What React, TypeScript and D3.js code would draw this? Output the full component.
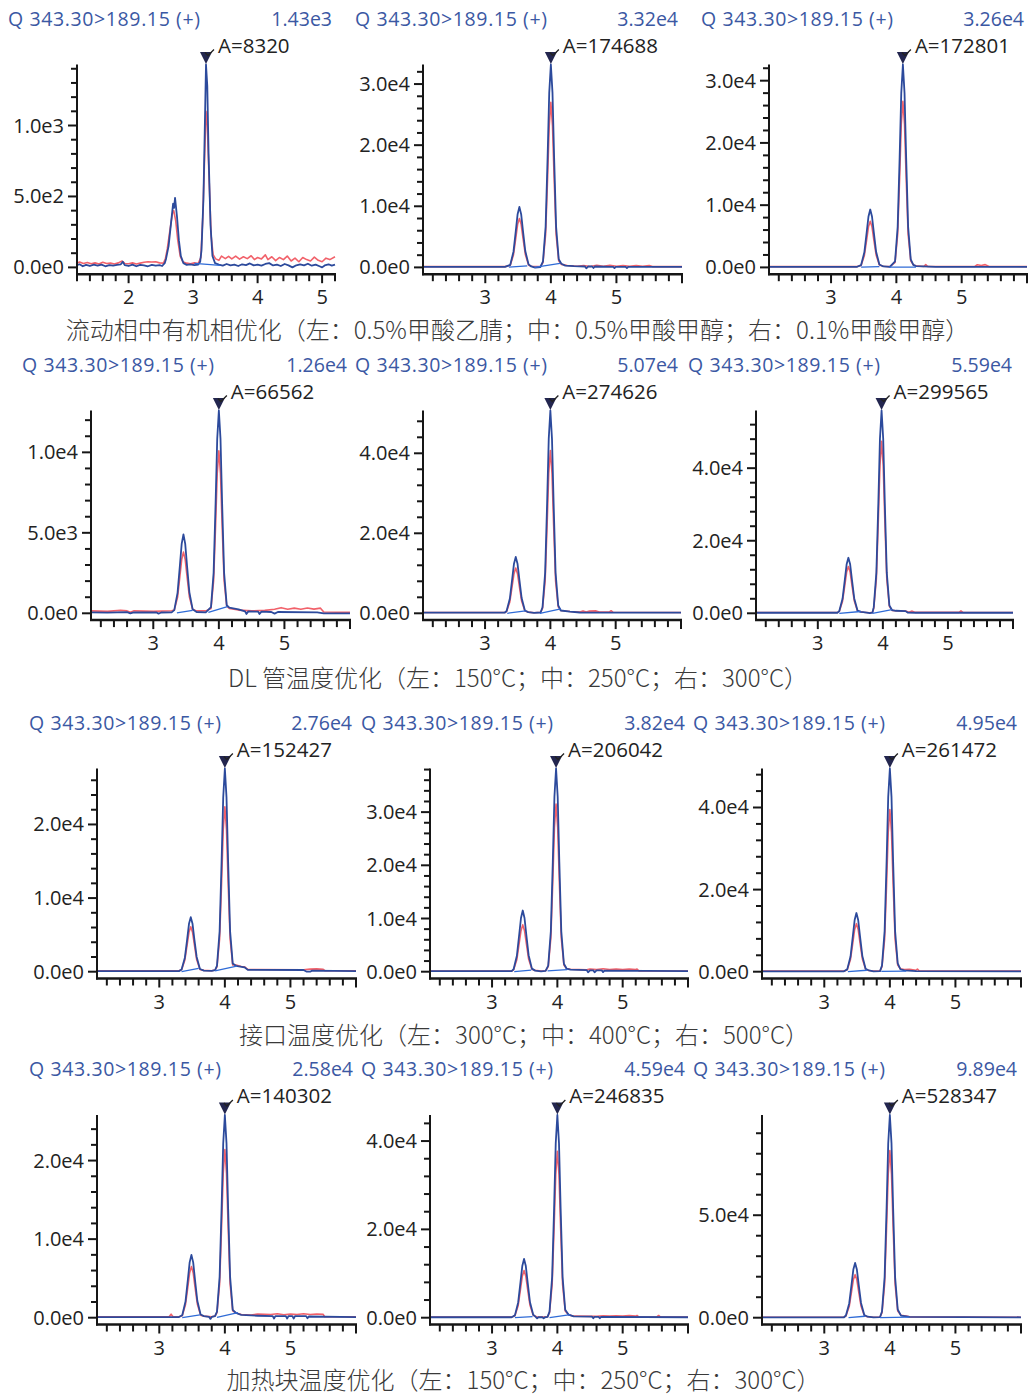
import React from "react";
import * as d3 from "d3";

type Pt = [number, number];

// ---------------- data ----------------
const TITLE = "Q 343.30>189.15 (+)";
const maxLabels = ["1.43e3", "3.32e4", "3.26e4", "1.26e4", "5.07e4", "5.59e4", "2.76e4", "3.82e4", "4.95e4", "2.58e4", "4.59e4", "9.89e4"];
const maxValues = [1430, 33200, 32600, 12600, 50700, 55900, 27600, 38200, 49500, 25800, 45900, 98900];
const areaLabels = ["A=8320", "A=174688", "A=172801", "A=66562", "A=274626", "A=299565", "A=152427", "A=206042", "A=261472", "A=140302", "A=246835", "A=528347"];
const apexTimes = [3.2, 4.0, 4.1, 4.0, 4.0, 3.98, 4.0, 3.98, 4.0, 4.0, 4.0, 4.0];
const majorSteps = [500, 1e4, 1e4, 5000, 2e4, 2e4, 1e4, 1e4, 2e4, 1e4, 2e4, 5e4];
const minorSteps = [100, 2000, 2000, 1000, 4000, 4000, 2000, 2000, 4000, 2000, 4000, 1e4];
const timeDomains: [number, number][] = [
  [1.2, 5.2], [2.05, 6.0], [2.05, 6.0],
  [2.05, 6.0], [2.05, 6.0], [2.05, 6.0],
  [2.05, 6.0], [2.05, 6.0], [2.05, 6.0],
  [2.05, 6.0], [2.05, 6.0], [2.05, 6.0],
];
const captions = [
  "流动相中有机相优化（左：0.5%甲酸乙腈；中：0.5%甲酸甲醇；右：0.1%甲酸甲醇）",
  "DL 管温度优化（左：150°C；中：250°C；右：300°C）",
  "接口温度优化（左：300°C；中：400°C；右：500°C）",
  "加热块温度优化（左：150°C；中：250°C；右：300°C）",
];

const blue1: Pt[] = [[1.2,15],[1.24,22],[1.29,8],[1.34,18],[1.4,10],[1.46,20],[1.52,12],[1.58,20],[1.64,8],[1.7,16],[1.76,12],[1.82,18],[1.88,22],[1.91,40],[1.94,16],[2.0,10],[2.06,20],[2.12,8],[2.18,18],[2.24,14],[2.3,8],[2.36,18],[2.42,12],[2.48,16],[2.52,10],[2.56,30],[2.58,60],[2.62,150],[2.655,300],[2.69,450],[2.705,420],[2.72,490],[2.75,360],[2.78,190],[2.81,80],[2.85,30],[2.9,18],[2.96,22],[3.02,16],[3.08,20],[3.11,40],[3.13,120],[3.16,480],[3.18,950],[3.2,1430],[3.22,1280],[3.24,800],[3.27,300],[3.3,80],[3.34,30],[3.4,20],[3.46,12],[3.52,24],[3.58,14],[3.64,20],[3.7,10],[3.76,22],[3.82,16],[3.88,28],[3.94,14],[4.0,20],[4.06,12],[4.12,24],[4.18,30],[4.24,14],[4.3,20],[4.36,10],[4.42,24],[4.48,14],[4.54,0],[4.6,15],[4.66,22],[4.72,14],[4.78,26],[4.84,12],[4.9,20],[4.96,8],[5.0,0],[5.04,14],[5.1,22],[5.15,12],[5.2,20]];
const red1: Pt[] = [[1.2,30],[1.24,38],[1.3,28],[1.36,34],[1.42,26],[1.48,32],[1.54,24],[1.6,36],[1.66,28],[1.72,30],[1.78,24],[1.84,32],[1.9,45],[1.94,28],[2.0,26],[2.06,32],[2.12,24],[2.18,30],[2.24,36],[2.3,40],[2.36,38],[2.42,40],[2.48,32],[2.54,30],[2.57,60],[2.6,130],[2.64,260],[2.68,380],[2.7,400],[2.73,330],[2.76,200],[2.8,80],[2.84,40],[2.9,30],[2.96,26],[3.02,32],[3.08,28],[3.12,70],[3.15,350],[3.18,800],[3.2,1100],[3.22,1000],[3.25,600],[3.28,220],[3.31,90],[3.35,60],[3.4,50],[3.44,80],[3.5,62],[3.55,78],[3.6,60],[3.66,80],[3.72,58],[3.78,75],[3.84,62],[3.9,82],[3.95,55],[4.0,70],[4.06,60],[4.12,88],[4.16,55],[4.22,75],[4.28,48],[4.34,70],[4.4,55],[4.46,80],[4.52,45],[4.58,65],[4.64,40],[4.7,70],[4.76,55],[4.82,45],[4.88,72],[4.94,50],[5.0,40],[5.06,65],[5.12,55],[5.2,75]];

const blue2: Pt[] = [[2.05,100],[3.3,100],[3.38,400],[3.43,2570],[3.465,5940],[3.493,8710],[3.52,9900],[3.547,8710],[3.575,5940],[3.61,2670],[3.66,500],[3.7,150],[3.76,-50],[3.84,50],[3.88,1000],[3.92,6640],[3.95,17900],[3.975,28550],[4.0,33200],[4.025,28550],[4.05,17900],[4.08,6640],[4.12,1330],[4.16,600],[4.22,300],[4.35,200],[4.52,150],[4.54,-150],[4.57,150],[4.63,150],[4.65,-100],[4.67,150],[4.95,100],[4.97,-120],[4.99,100],[5.14,100],[5.16,-100],[5.18,100],[6.0,100]];
const red2: Pt[] = [[2.05,130],[3.3,130],[3.38,320],[3.43,2080],[3.465,4800],[3.493,7040],[3.52,8000],[3.547,7040],[3.575,4800],[3.61,2160],[3.66,400],[3.7,200],[3.8,120],[3.84,150],[3.88,810],[3.92,5400],[3.95,14600],[3.975,23200],[4.0,27000],[4.025,23200],[4.05,14600],[4.08,5400],[4.12,1080],[4.16,500],[4.25,300],[4.4,200],[4.5,300],[4.6,150],[4.7,350],[4.8,200],[4.9,330],[5.0,180],[5.1,300],[5.2,200],[5.3,320],[5.4,200],[5.5,300],[5.55,130],[6.0,130]];

const blue3: Pt[] = [[2.05,100],[3.4,100],[3.46,370],[3.51,2420],[3.545,5580],[3.573,8180],[3.6,9300],[3.627,8180],[3.655,5580],[3.69,2510],[3.74,465],[3.8,150],[3.9,80],[3.98,980],[4.02,6520],[4.05,17600],[4.075,28000],[4.1,32600],[4.125,28000],[4.15,17600],[4.18,6520],[4.22,1300],[4.26,400],[4.3,200],[4.6,100],[6.0,100]];
const red3: Pt[] = [[2.05,130],[3.4,130],[3.46,300],[3.51,1920],[3.545,4440],[3.573,6510],[3.6,7400],[3.627,6510],[3.655,4440],[3.69,2000],[3.74,370],[3.8,180],[3.9,120],[3.98,800],[4.02,5340],[4.05,14400],[4.075,23000],[4.1,26700],[4.125,23000],[4.15,14400],[4.18,5340],[4.22,1070],[4.26,400],[4.3,250],[4.42,150],[4.45,450],[4.48,150],[5.2,150],[5.24,420],[5.3,300],[5.36,450],[5.42,150],[6.0,130]];

const blue4: Pt[] = [[2.05,60],[2.3,40],[2.6,70],[2.65,0],[2.7,60],[3.05,50],[3.08,-20],[3.12,50],[3.28,60],[3.32,200],[3.37,1270],[3.405,2940],[3.433,4310],[3.46,4900],[3.487,4310],[3.515,2940],[3.55,1320],[3.6,245],[3.66,80],[3.8,60],[3.88,380],[3.92,2520],[3.95,6800],[3.975,10840],[4.0,12600],[4.025,10840],[4.05,6800],[4.08,2520],[4.12,500],[4.16,350],[4.3,250],[4.4,120],[4.42,-40],[4.45,120],[4.6,100],[4.62,-40],[4.65,100],[4.8,80],[4.85,-20],[4.9,80],[5.5,60],[5.6,0],[6.0,0]];
const red4: Pt[] = [[2.05,150],[2.3,120],[2.5,180],[2.6,150],[2.65,60],[2.7,150],[3.0,120],[3.28,160],[3.32,200],[3.37,990],[3.405,2280],[3.433,3340],[3.46,3800],[3.487,3340],[3.515,2280],[3.55,1030],[3.6,250],[3.66,150],[3.8,150],[3.88,300],[3.92,2020],[3.95,5450],[3.975,8690],[4.0,10100],[4.025,8690],[4.05,5450],[4.08,2020],[4.12,450],[4.16,300],[4.3,200],[4.5,150],[4.7,180],[4.85,250],[4.95,350],[5.05,250],[5.15,320],[5.25,250],[5.35,330],[5.45,260],[5.55,320],[5.6,80],[6.0,60]];

const blue5: Pt[] = [[2.05,150],[3.3,150],[3.33,560],[3.38,3700],[3.415,8500],[3.443,12400],[3.47,14100],[3.497,12400],[3.525,8500],[3.56,3800],[3.61,700],[3.66,300],[3.75,100],[3.85,200],[3.88,1500],[3.92,10100],[3.95,27400],[3.975,43600],[4.0,50700],[4.025,43600],[4.05,27400],[4.08,10100],[4.12,2000],[4.16,700],[4.3,400],[4.45,200],[6.0,150]];
const red5: Pt[] = [[2.05,200],[3.3,200],[3.33,450],[3.38,2900],[3.415,6800],[3.443,9900],[3.47,11300],[3.497,9900],[3.525,6800],[3.56,3050],[3.61,570],[3.66,300],[3.75,150],[3.85,250],[3.88,1200],[3.92,8100],[3.95,22000],[3.975,35000],[4.0,40700],[4.025,35000],[4.05,22000],[4.08,8100],[4.12,1600],[4.16,700],[4.3,450],[4.45,300],[4.5,600],[4.55,300],[4.6,550],[4.7,600],[4.75,300],[4.9,300],[4.93,650],[4.96,250],[6.0,200]];

const blue6: Pt[] = [[2.05,150],[3.3,150],[3.33,610],[3.38,4000],[3.415,9200],[3.443,13500],[3.47,15300],[3.497,13500],[3.525,9200],[3.56,4100],[3.61,770],[3.66,400],[3.7,300],[3.8,50],[3.84,200],[3.86,1700],[3.9,11200],[3.93,30200],[3.955,48100],[3.98,55900],[4.005,48100],[4.03,30200],[4.06,11200],[4.1,2200],[4.14,900],[4.2,700],[4.35,600],[4.38,200],[4.5,150],[6.0,150]];
const red6: Pt[] = [[2.05,200],[3.3,200],[3.33,520],[3.38,3350],[3.415,7700],[3.443,11350],[3.47,12900],[3.497,11350],[3.525,7700],[3.56,3480],[3.61,650],[3.66,400],[3.7,300],[3.8,150],[3.84,250],[3.86,1400],[3.9,9500],[3.93,25600],[3.955,40800],[3.98,47400],[4.005,40800],[4.03,25600],[4.06,9500],[4.1,1900],[4.14,800],[4.2,700],[4.35,600],[4.4,300],[4.45,600],[4.5,250],[5.17,250],[5.2,650],[5.23,250],[6.0,200]];

const blue7: Pt[] = [[2.05,80],[3.3,80],[3.34,300],[3.39,1900],[3.425,4400],[3.453,6500],[3.48,7400],[3.507,6500],[3.535,4400],[3.57,2000],[3.62,370],[3.68,150],[3.8,100],[3.85,200],[3.88,830],[3.92,5500],[3.95,14900],[3.975,23700],[4.0,27600],[4.025,23700],[4.05,14900],[4.08,5500],[4.12,1100],[4.17,800],[4.3,600],[4.35,250],[5.2,230],[5.25,0],[5.3,0],[5.33,150],[6.0,80]];
const red7: Pt[] = [[2.05,120],[3.3,120],[3.34,250],[3.39,1600],[3.425,3660],[3.453,5370],[3.48,6100],[3.507,5370],[3.535,3660],[3.57,1650],[3.62,300],[3.68,180],[3.8,130],[3.85,220],[3.88,670],[3.92,4500],[3.95,12100],[3.975,19300],[4.0,22400],[4.025,19300],[4.05,12100],[4.08,4500],[4.12,900],[4.17,900],[4.25,700],[4.3,650],[4.35,300],[5.2,260],[5.3,350],[5.4,380],[5.5,330],[5.53,120],[6.0,120]];

const blue8: Pt[] = [[2.05,100],[3.3,100],[3.33,460],[3.38,3000],[3.415,6900],[3.443,10100],[3.47,11500],[3.497,10100],[3.525,6900],[3.56,3100],[3.61,580],[3.66,200],[3.75,80],[3.82,150],[3.86,1150],[3.9,7600],[3.93,20600],[3.955,32900],[3.98,38200],[4.005,32900],[4.03,20600],[4.06,7600],[4.1,1500],[4.14,600],[4.2,400],[4.45,300],[4.47,-100],[4.5,250],[4.55,250],[4.57,-100],[4.6,250],[4.68,250],[4.7,-80],[4.72,200],[6.0,100]];
const red8: Pt[] = [[2.05,130],[3.3,130],[3.33,350],[3.38,2300],[3.415,5300],[3.443,7700],[3.47,8800],[3.497,7700],[3.525,5300],[3.56,2380],[3.61,440],[3.66,250],[3.75,120],[3.82,180],[3.86,950],[3.9,6300],[3.93,17000],[3.955,27100],[3.98,31500],[4.005,27100],[4.03,17000],[4.06,6300],[4.1,1260],[4.14,600],[4.2,450],[4.45,350],[4.5,500],[4.6,400],[4.7,550],[4.8,400],[4.9,500],[5.0,420],[5.1,480],[5.2,400],[5.22,500],[5.25,130],[6.0,130]];

const blue9: Pt[] = [[2.05,100],[3.3,100],[3.35,570],[3.4,3700],[3.435,8600],[3.463,12600],[3.49,14300],[3.517,12600],[3.545,8600],[3.58,3860],[3.63,715],[3.68,300],[3.75,100],[3.85,150],[3.88,1500],[3.92,9900],[3.95,26700],[3.975,42600],[4.0,49500],[4.025,42600],[4.05,26700],[4.08,9900],[4.12,2000],[4.16,600],[4.22,300],[4.4,150],[6.0,100]];
const red9: Pt[] = [[2.05,130],[3.3,130],[3.35,470],[3.4,3040],[3.435,7020],[3.463,10300],[3.49,11700],[3.517,10300],[3.545,7020],[3.58,3160],[3.63,585],[3.68,300],[3.75,150],[3.85,200],[3.88,1200],[3.92,7900],[3.95,21300],[3.975,34000],[4.0,39500],[4.025,34000],[4.05,21300],[4.08,7900],[4.12,1600],[4.16,700],[4.22,500],[4.3,600],[4.4,350],[4.42,650],[4.45,150],[6.0,130]];

const blue10: Pt[] = [[2.05,80],[3.3,80],[3.35,320],[3.4,2080],[3.435,4800],[3.463,7040],[3.49,8000],[3.517,7040],[3.545,4800],[3.58,2160],[3.63,400],[3.68,200],[3.76,100],[3.78,-150],[3.8,100],[3.85,200],[3.88,770],[3.92,5200],[3.95,13900],[3.975,22200],[4.0,25800],[4.025,22200],[4.05,13900],[4.08,5200],[4.12,1000],[4.17,600],[4.25,350],[4.5,250],[4.73,200],[4.75,-100],[4.77,200],[4.93,200],[4.95,-100],[4.97,200],[5.03,200],[5.05,-100],[5.07,200],[5.24,200],[5.26,-80],[5.28,150],[6.0,80]];
const red10: Pt[] = [[2.05,120],[3.15,120],[3.18,450],[3.21,120],[3.3,120],[3.35,260],[3.4,1690],[3.435,3900],[3.463,5720],[3.49,6500],[3.517,5720],[3.545,3900],[3.58,1755],[3.63,325],[3.68,200],[3.8,130],[3.85,220],[3.88,640],[3.92,4300],[3.95,11600],[3.975,18400],[4.0,21400],[4.025,18400],[4.05,11600],[4.08,4300],[4.12,860],[4.17,600],[4.25,400],[4.4,350],[4.5,450],[4.7,400],[4.8,500],[4.9,380],[5.0,450],[5.1,400],[5.2,500],[5.3,400],[5.4,480],[5.5,420],[5.52,120],[6.0,120]];

const blue11: Pt[] = [[2.05,100],[3.3,100],[3.35,530],[3.4,3460],[3.435,7980],[3.463,11700],[3.49,13300],[3.517,11700],[3.545,7980],[3.58,3590],[3.63,665],[3.66,300],[3.69,-150],[3.71,100],[3.77,100],[3.79,-150],[3.81,100],[3.85,200],[3.88,1380],[3.92,9200],[3.95,24800],[3.975,39500],[4.0,45900],[4.025,39500],[4.05,24800],[4.08,9200],[4.12,1800],[4.17,700],[4.25,300],[4.53,250],[4.55,-120],[4.57,200],[4.63,200],[4.65,-120],[4.67,200],[6.0,100]];
const red11: Pt[] = [[2.05,130],[3.3,130],[3.35,430],[3.4,2780],[3.435,6420],[3.463,9400],[3.49,10700],[3.517,9400],[3.545,6420],[3.58,2890],[3.63,535],[3.68,200],[3.8,150],[3.85,220],[3.88,1130],[3.92,7540],[3.95,20400],[3.975,32400],[4.0,37700],[4.025,32400],[4.05,20400],[4.08,7540],[4.12,1510],[4.17,700],[4.25,350],[4.6,300],[4.7,450],[4.8,350],[4.9,450],[5.0,380],[5.1,480],[5.2,350],[5.22,500],[5.25,150],[5.52,150],[5.55,500],[5.58,150],[6.0,130]];

const blue12: Pt[] = [[2.05,200],[3.3,200],[3.33,1070],[3.38,6940],[3.415,16000],[3.443,23500],[3.47,26700],[3.497,23500],[3.525,16000],[3.56,7200],[3.61,1340],[3.66,500],[3.75,200],[3.85,300],[3.88,3000],[3.92,19800],[3.95,53400],[3.975,85100],[4.0,98900],[4.025,85100],[4.05,53400],[4.08,19800],[4.12,4000],[4.17,1000],[4.3,400],[6.0,200]];
const red12: Pt[] = [[2.05,250],[3.3,250],[3.33,840],[3.38,5460],[3.415,12600],[3.443,18500],[3.47,21000],[3.497,18500],[3.525,12600],[3.56,5670],[3.61,1050],[3.66,500],[3.75,250],[3.85,350],[3.88,2450],[3.92,16300],[3.95,44100],[3.975,70200],[4.0,81600],[4.025,70200],[4.05,44100],[4.08,16300],[4.12,3260],[4.17,1200],[4.25,800],[4.3,400],[6.0,250]];

const integ1: Pt[][] = [[[3.02,28],[3.42,14]]];
const integ2: Pt[][] = [[[3.36,50],[3.64,250]], [[3.75,0],[4.14,650]]];
const integ3: Pt[][] = [[[3.46,40],[3.74,120]], [[3.89,30],[4.3,60]]];
const integ4: Pt[][] = [[[3.36,20],[3.6,180]], [[3.84,60],[4.13,420]]];
const integ5: Pt[][] = [[[3.34,0],[3.62,600]], [[3.84,0],[4.16,1100]]];
const integ6: Pt[][] = [[[3.33,0],[3.66,500]], [[3.84,0],[4.14,1000]]];
const integ7: Pt[][] = [[[3.34,0],[3.6,450]], [[3.85,100],[4.18,750]]];
const integ8: Pt[][] = [[[3.34,0],[3.6,300]], [[3.85,150],[4.15,400]]];
const integ9: Pt[][] = [[[3.36,0],[3.65,350]], [[3.87,100],[4.25,150]]];
const integ10: Pt[][] = [[[3.35,0],[3.62,350]], [[3.88,50],[4.2,650]]];
const integ11: Pt[][] = [[[3.35,0],[3.62,250]], [[3.88,0],[4.2,700]]];
const integ12: Pt[][] = [[[3.37,0],[3.62,700]], [[3.85,0],[4.3,300]]];

const blueTraces = [blue1, blue2, blue3, blue4, blue5, blue6, blue7, blue8, blue9, blue10, blue11, blue12];
const redTraces = [red1, red2, red3, red4, red5, red6, red7, red8, red9, red10, red11, red12];
const integrations = [integ1, integ2, integ3, integ4, integ5, integ6, integ7, integ8, integ9, integ10, integ11, integ12];

// ---------------- layout ----------------
const W = 1029;
const H = 1395;
const panelLeft = [77, 423, 769, 91, 423, 756, 97, 430, 762, 97, 430, 762];
const panelRight = [335, 682, 1027, 350, 681, 1013, 356, 688, 1021, 356, 688, 1021];
const rowZero = [267.4, 613.3, 971.7, 1317.7];
const rowTop = [64.5, 410.5, 768.5, 1115];
const headerLeft = [8, 355, 701, 22, 355, 688, 29, 361, 693, 29, 361, 693];
const headerRight = [332, 678, 1024, 347, 678, 1012, 352, 685, 1017, 353, 685, 1017];
const headerBaseline = [26, 372, 730, 1076];
const TITLE_WIDTH = 192;
const captionX = [517.5, 518, 524, 523.5];
const captionBaseline = [339, 687, 1044, 1389];

const LATIN = "'Open Sans', 'Noto Sans', sans-serif";
const CJK = "'Noto Sans CJK SC', 'Noto Sans', sans-serif";
const HEADER_COLOR = "#3b58a3";
const TEXT_COLOR = "#222";
const AXIS_COLOR = "#161616";
const BLUE = "#2c4a9c";
const RED = "#f0505a";
const INTEG = "#2f6bd6";

function fmtSci(v: number): string {
  if (v === 0) return "0.0e0";
  return d3.format(".1e")(v).replace("+", "");
}

function Panel({ i }: { i: number }) {
  const row = Math.floor(i / 3);
  const [t0, t1] = timeDomains[i];
  const x = d3.scaleLinear().domain([t0, t1]).range([panelLeft[i], panelRight[i]]);
  const y = d3.scaleLinear().domain([0, maxValues[i]]).range([rowZero[row], rowTop[row]]);
  const axisY = rowZero[row] + 6.8;
  const line = d3.line<Pt>().x((d) => x(d[0])).y((d) => y(d[1]));

  const xTicks = d3.range(Math.ceil(t0 * 5 - 1e-6), Math.floor(t1 * 5 + 1e-6) + 1).map((k) => k / 5);
  const yTicks = d3.range(0, Math.floor(maxValues[i] / minorSteps[i] + 1e-6) + 1).map((k) => k * minorSteps[i]);
  const isMajorY = (v: number) => Math.abs(v / majorSteps[i] - Math.round(v / majorSteps[i])) < 1e-6;
  const isMajorX = (t: number) => Math.abs(t - Math.round(t)) < 1e-6;
  const xLabels = xTicks.filter((t) => isMajorX(t) && t < t1 - 0.1);

  const ax = x(apexTimes[i]);
  const ay = y(maxValues[i]);

  return (
    <g>
      {/* header */}
      <text x={headerLeft[i]} y={headerBaseline[row]} fill={HEADER_COLOR} fontFamily={LATIN} fontSize={19.5} textLength={TITLE_WIDTH} lengthAdjust="spacing">
        {TITLE}
      </text>
      <text x={headerRight[i]} y={headerBaseline[row]} fill={HEADER_COLOR} fontFamily={LATIN} fontSize={19.5} textAnchor="end">
        {maxLabels[i]}
      </text>

      {/* traces */}
      <path d={line(redTraces[i]) || ""} fill="none" stroke={RED} strokeWidth={1.6} strokeLinejoin="round" opacity={0.9} />
      <path d={line(blueTraces[i]) || ""} fill="none" stroke={BLUE} strokeWidth={1.8} strokeLinejoin="round" />
      {integrations[i].map((seg, k) => (
        <path key={k} d={line(seg) || ""} fill="none" stroke={INTEG} strokeWidth={1.3} />
      ))}

      {/* y axis */}
      <line x1={panelLeft[i]} x2={panelLeft[i]} y1={rowTop[row]} y2={axisY + 1} stroke={AXIS_COLOR} strokeWidth={2} />
      {yTicks.map((v) => (
        <line key={"yt" + v} x1={panelLeft[i] - (isMajorY(v) ? 9 : 6)} x2={panelLeft[i]} y1={y(v)} y2={y(v)} stroke={AXIS_COLOR} strokeWidth={2} />
      ))}
      {yTicks.filter(isMajorY).map((v) => (
        <text key={"yl" + v} x={panelLeft[i] - 13} y={y(v) + 7} textAnchor="end" fill={TEXT_COLOR} fontFamily={LATIN} fontSize={20}>
          {fmtSci(v)}
        </text>
      ))}

      {/* x axis */}
      <line x1={panelLeft[i] - 1} x2={panelRight[i] + 1} y1={axisY} y2={axisY} stroke={AXIS_COLOR} strokeWidth={2.5} />
      {xTicks.map((t) => (
        <line key={"xt" + t} x1={x(t)} x2={x(t)} y1={axisY} y2={axisY + (isMajorX(t) ? 9 : 7)} stroke={AXIS_COLOR} strokeWidth={2} />
      ))}
      {xLabels.map((t) => (
        <text key={"xl" + t} x={x(t)} y={axisY + 30} textAnchor="middle" fill={TEXT_COLOR} fontFamily={LATIN} fontSize={20}>
          {d3.format("d")(t)}
        </text>
      ))}

      {/* peak marker */}
      <path d={`M${ax - 6},${ay - 12.5}L${ax + 6},${ay - 12.5}L${ax},${ay - 0.5}Z`} fill="#23264f" />
      <polyline points={`${ax - 1},${ay - 12} ${ax + 2},${ay - 9} ${ax + 8},${ay - 15}`} fill="none" stroke="#222" strokeWidth={1.3} />
      <text x={ax + 12} y={ay - 12} fill={TEXT_COLOR} fontFamily={LATIN} fontSize={20.5}>
        {areaLabels[i]}
      </text>
    </g>
  );
}

export default function App() {
  return (
    <svg width={W} height={H} viewBox={`0 0 ${W} ${H}`} style={{ position: "absolute", left: 0, top: 0, background: "#fff" }}>
      <rect x={0} y={0} width={W} height={H} fill="#fff" />
      {d3.range(12).map((i) => (
        <Panel key={i} i={i} />
      ))}
      {captions.map((c, r) => (
        <text key={r} x={captionX[r]} y={captionBaseline[r]} textAnchor="middle" fill="#3a3a3a" fontFamily={CJK} fontWeight={300} fontSize={24}>
          {c}
        </text>
      ))}
    </svg>
  );
}
